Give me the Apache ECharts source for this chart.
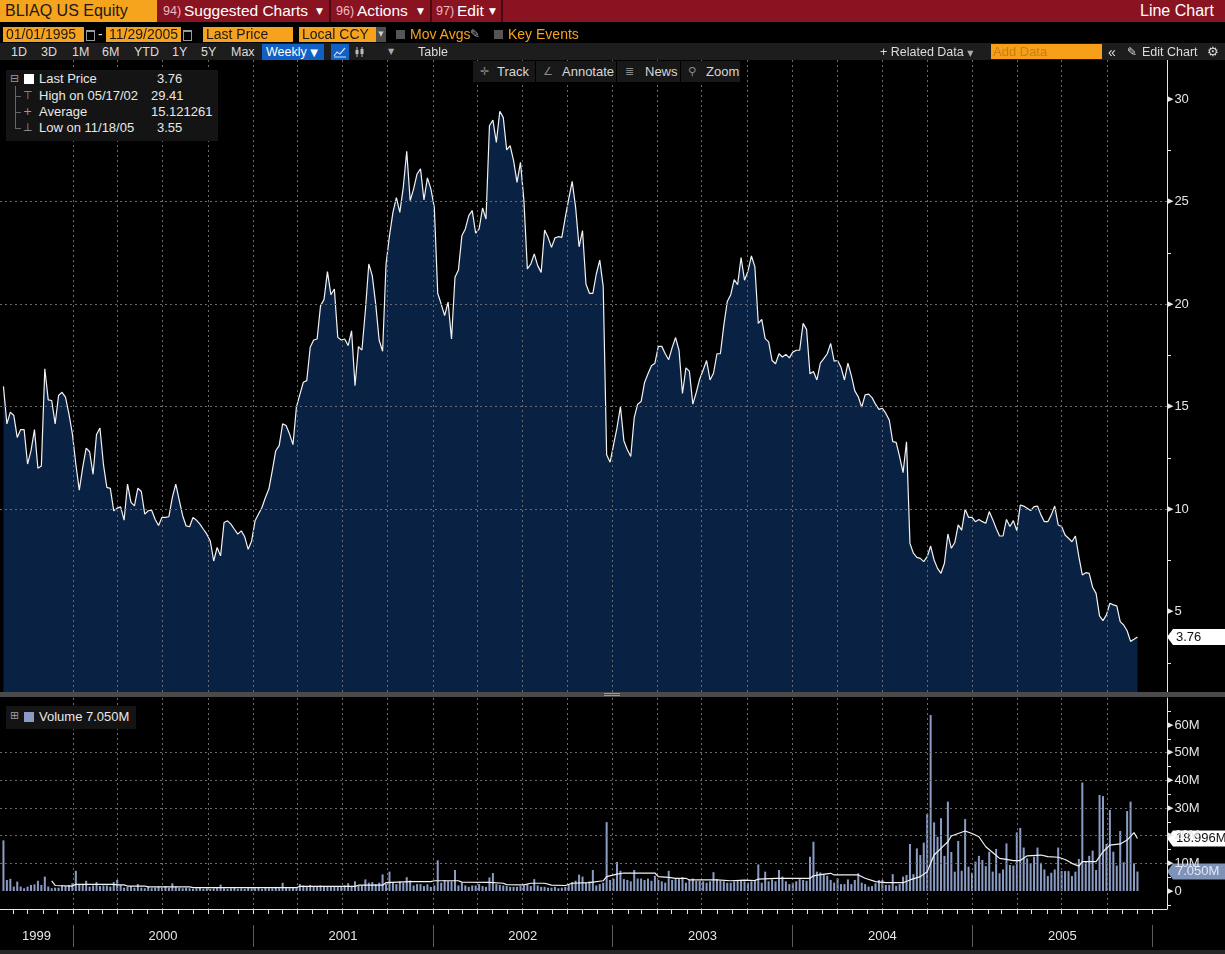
<!DOCTYPE html>
<html lang="en">
<head>
<meta charset="UTF-8">
<title>BLIAQ US Equity - Line Chart</title>
<script src="https://cdn.jsdelivr.net/npm/echarts@6/dist/echarts.min.js"></script>
<style>
html, body { margin: 0; padding: 0; background: #000; }
body { position: relative; width: 1225px; height: 954px; overflow: hidden;
       font-family: "Liberation Sans", Arial, sans-serif; color: #e6e6e6; }
#chart { position: absolute; left: 0; top: 0; width: 1225px; height: 954px; }
.a { position: absolute; white-space: nowrap; }
.ico { font-family: "DejaVu Sans", sans-serif; }
.t1 { top: 0; line-height: 22px; font-size: 15.5px; color: #fff; }
.num { top: 0; line-height: 22px; font-size: 12.5px; color: #f0b9bf; }
.box { top: 27px; height: 15px; line-height: 15px; background: #f7a21c; color: #1c1c1c; font-size: 14px; padding-left: 3px; box-sizing: border-box; }
.o2 { top: 27px; line-height: 15px; font-size: 14px; color: #f7a21c; }
.t3 { top: 44px; line-height: 16px; font-size: 12.5px; color: #dcdcdc; }
.lg { font-size: 13px; line-height: 16px; color: #e8e8e8; }
.tk { top: 62px; line-height: 19px; font-size: 13px; color: #d6d6d6; }
</style>
</head>
<body>
<div id="chart"></div>

<!-- row 1 -->
<div class="a" style="left:0;top:0;width:1225px;height:22px;background:#8a1322"></div>
<div class="a" style="left:0;top:0;width:157px;height:22px;background:#f6a31d;color:#1a1a1a;font-size:16px;line-height:22px;padding-left:5px;box-sizing:border-box">BLIAQ US Equity</div>
<div class="a" style="left:329px;top:0;width:2px;height:22px;background:#4a0a12"></div>
<div class="a" style="left:430px;top:0;width:2px;height:22px;background:#4a0a12"></div>
<div class="a" style="left:501px;top:0;width:2px;height:22px;background:#4a0a12"></div>
<div class="a num" style="left:163px">94)</div>
<div class="a t1" style="left:184px">Suggested Charts</div>
<div class="a t1 ico" style="left:316px;font-size:9px">▼</div>
<div class="a num" style="left:336px">96)</div>
<div class="a t1" style="left:357px">Actions</div>
<div class="a t1 ico" style="left:417px;font-size:9px">▼</div>
<div class="a num" style="left:436px">97)</div>
<div class="a t1" style="left:457px">Edit</div>
<div class="a t1 ico" style="left:489px;font-size:9px">▼</div>
<div class="a t1" style="left:1140px;font-size:16px">Line Chart</div>

<!-- row 2 -->
<div class="a box" style="left:3px;width:81px">01/01/1995</div>
<div class="a" style="left:86px;top:30px;width:7px;height:8px;border:1px solid #9a9a9a;border-top-width:2px"></div>
<div class="a o2" style="left:98px;color:#ddd">-</div>
<div class="a box" style="left:106px;width:75px">11/29/2005</div>
<div class="a" style="left:183px;top:30px;width:7px;height:8px;border:1px solid #9a9a9a;border-top-width:2px"></div>
<div class="a box" style="left:203px;width:90px">Last Price</div>
<div class="a box" style="left:299px;width:77px">Local CCY</div>
<div class="a ico" style="left:376px;top:27px;width:10px;height:15px;background:#4d4d4d;color:#ccc;font-size:7px;line-height:15px;text-align:center">▼</div>
<div class="a" style="left:396px;top:30px;width:9px;height:9px;background:#555"></div>
<div class="a o2" style="left:410px">Mov Avgs</div>
<div class="a ico o2" style="left:470px;color:#aaa;font-size:12px">✎</div>
<div class="a" style="left:494px;top:30px;width:9px;height:9px;background:#555"></div>
<div class="a o2" style="left:508px">Key Events</div>

<!-- row 3 -->
<div class="a" style="left:0;top:43px;width:1225px;height:17px;background:#1d1d1d"></div>
<div class="a t3" style="left:11px">1D</div>
<div class="a t3" style="left:41px">3D</div>
<div class="a t3" style="left:72px">1M</div>
<div class="a t3" style="left:102px">6M</div>
<div class="a t3" style="left:134px">YTD</div>
<div class="a t3" style="left:172px">1Y</div>
<div class="a t3" style="left:201px">5Y</div>
<div class="a t3" style="left:231px">Max</div>
<div class="a t3" style="left:262px;width:62px;height:16px;background:#1160c4;color:#fff;padding-left:4px;box-sizing:border-box">Weekly <span class="ico" style="font-size:10px">▼</span></div>
<div class="a" style="left:331px;top:44px;width:18px;height:16px;background:#1160c4"></div>
<svg class="a" style="left:333px;top:46px" width="14" height="12"><polyline points="1,10 4,6 7,8 12,2" fill="none" stroke="#cfe0ff" stroke-width="1.2"/><line x1="1" y1="11" x2="13" y2="11" stroke="#cfe0ff" stroke-width="1"/></svg>
<svg class="a" style="left:354px;top:46px" width="12" height="12"><line x1="3" y1="1" x2="3" y2="11" stroke="#bbb"/><line x1="8" y1="1" x2="8" y2="11" stroke="#bbb"/><rect x="1.5" y="4" width="3" height="4" fill="#bbb"/><rect x="6.5" y="3" width="3" height="5" fill="#bbb"/></svg>
<div class="a t3 ico" style="left:388px;font-size:8px;color:#aaa">▼</div>
<div class="a t3" style="left:418px">Table</div>
<div class="a t3" style="left:880px">+ Related Data <span class="ico" style="font-size:8px;color:#aaa">▼</span></div>
<div class="a t3" style="left:991px;width:111px;height:15px;background:#f6a01a;color:#c97d12;padding-left:2px;box-sizing:border-box;font-size:13px">Add Data</div>
<div class="a t3" style="left:1108px;font-size:14px">«</div>
<div class="a t3 ico" style="left:1127px;font-size:12px">✎</div>
<div class="a t3" style="left:1142px">Edit Chart</div>
<div class="a t3 ico" style="left:1207px;font-size:13px">⚙</div>

<!-- track bar -->
<div class="a" style="left:473px;top:61px;width:267px;height:21px;background:#181818"></div>
<div class="a" style="left:535px;top:61px;width:1px;height:21px;background:#000"></div>
<div class="a" style="left:616px;top:61px;width:1px;height:21px;background:#000"></div>
<div class="a" style="left:680px;top:61px;width:1px;height:21px;background:#000"></div>
<div class="a tk ico" style="left:480px;color:#8a8a8a;font-size:11px">✛</div>
<div class="a tk" style="left:497px">Track</div>
<div class="a tk ico" style="left:543px;color:#8a8a8a;font-size:11px">∠</div>
<div class="a tk" style="left:562px">Annotate</div>
<div class="a tk ico" style="left:625px;color:#8a8a8a;font-size:11px">≣</div>
<div class="a tk" style="left:645px">News</div>
<div class="a tk ico" style="left:688px;color:#8a8a8a;font-size:11px">⚲</div>
<div class="a tk" style="left:706px">Zoom</div>

<!-- price legend -->
<div class="a" style="left:6px;top:70px;width:212px;height:71px;background:#141414"></div>
<div class="a ico" style="left:10px;top:72px;font-size:11px;color:#9a9a9a">⊟</div>
<div class="a" style="left:15px;top:86px;width:1px;height:42px;background:#666"></div>
<div class="a" style="left:15px;top:96px;width:6px;height:1px;background:#666"></div>
<div class="a" style="left:15px;top:112px;width:6px;height:1px;background:#666"></div>
<div class="a" style="left:15px;top:128px;width:6px;height:1px;background:#666"></div>
<div class="a" style="left:24px;top:74px;width:10px;height:10px;background:#fff"></div>
<div class="a lg" style="left:39px;top:71px">Last Price</div>
<div class="a lg" style="left:157px;top:71px">3.76</div>
<div class="a lg ico" style="left:23px;top:88px;color:#9a9a9a;font-size:11px">⊤</div>
<div class="a lg" style="left:39px;top:88px">High on 05/17/02</div>
<div class="a lg" style="left:151px;top:88px">29.41</div>
<div class="a lg ico" style="left:23px;top:104px;color:#9a9a9a;font-size:11px">+</div>
<div class="a lg" style="left:39px;top:104px">Average</div>
<div class="a lg" style="left:151px;top:104px">15.121261</div>
<div class="a lg ico" style="left:23px;top:120px;color:#9a9a9a;font-size:11px">⊥</div>
<div class="a lg" style="left:39px;top:120px">Low on 11/18/05</div>
<div class="a lg" style="left:157px;top:120px">3.55</div>

<!-- volume legend -->
<div class="a" style="left:6px;top:706px;width:130px;height:23px;background:#141414"></div>
<div class="a ico" style="left:10px;top:709px;font-size:11px;color:#9a9a9a">⊞</div>
<div class="a" style="left:24px;top:712px;width:10px;height:10px;background:#8a9cc3"></div>
<div class="a lg" style="left:39px;top:709px">Volume 7.050M</div>

<script>
// weekly closes, one array per calendar year (first point: Friday 1999-08-13)
const price1999 = [15.99, 14.16, 14.73, 14.57, 13.50, 13.88, 13.88, 12.20, 12.85, 13.88, 12.00, 12.10, 16.85, 15.33, 15.30, 14.16, 15.55, 15.70, 15.46, 14.65, 13.67];
const price2000 = [12.20, 10.93, 12.04, 12.98, 12.80, 11.70, 13.64, 13.96, 12.20, 11.06, 11.01, 9.92, 10.05, 10.11, 9.46, 11.22, 10.33, 10.16, 11.02, 10.86, 9.76, 9.92, 9.95, 9.51, 9.20, 9.60, 9.60, 9.63, 10.57, 11.22, 10.44, 9.68, 9.18, 9.14, 9.60, 9.46, 9.27, 9.02, 8.78, 8.45, 7.47, 8.13, 7.72, 9.35, 9.43, 9.27, 9.02, 8.78, 8.94, 8.65, 8.04, 8.45];
const price2001 = [9.43, 9.76, 10.08, 10.57, 10.98, 11.88, 12.85, 13.10, 14.16, 14.08, 13.67, 13.15, 14.98, 15.60, 16.19, 16.27, 17.90, 18.25, 18.30, 19.93, 20.22, 21.59, 20.46, 20.74, 18.38, 18.25, 18.30, 17.98, 18.70, 16.02, 17.93, 17.76, 19.68, 21.96, 21.39, 20.00, 18.25, 17.70, 21.96, 23.34, 24.48, 25.20, 24.48, 25.70, 27.46, 25.05, 25.62, 26.35, 26.60, 25.08, 26.16, 25.62];
const price2002 = [24.72, 20.53, 20.00, 19.44, 20.10, 18.30, 21.31, 21.67, 23.34, 23.67, 24.32, 24.56, 23.46, 23.67, 24.69, 24.15, 28.70, 28.98, 27.89, 29.41, 29.11, 27.52, 27.73, 27.00, 25.94, 26.92, 25.05, 21.72, 21.96, 22.45, 21.88, 21.55, 23.62, 23.26, 22.77, 23.23, 23.29, 23.26, 24.24, 25.13, 25.99, 24.72, 22.80, 23.59, 20.98, 20.53, 20.53, 21.47, 22.15, 20.87, 12.65, 12.29];
const price2003 = [13.14, 13.96, 15.00, 13.34, 12.90, 12.57, 14.46, 15.12, 15.25, 16.18, 16.60, 17.00, 17.12, 17.94, 17.94, 17.58, 17.29, 17.88, 18.37, 17.75, 15.64, 16.89, 16.73, 15.12, 15.69, 16.35, 16.79, 17.25, 16.30, 16.63, 17.58, 17.58, 18.98, 20.13, 20.46, 21.20, 20.95, 22.27, 21.17, 21.61, 22.35, 21.83, 19.06, 19.26, 18.32, 18.16, 17.25, 17.09, 17.58, 17.42, 17.55, 17.38];
const price2004 = [17.66, 17.75, 17.75, 19.06, 18.77, 16.60, 16.71, 16.30, 17.12, 17.34, 17.58, 18.08, 17.22, 17.25, 16.92, 16.30, 17.12, 16.51, 15.77, 15.48, 14.98, 15.58, 15.61, 15.44, 15.12, 14.87, 14.92, 14.67, 14.35, 13.29, 13.26, 12.56, 11.78, 13.29, 8.33, 7.85, 7.65, 7.60, 7.44, 7.68, 8.20, 7.52, 7.11, 6.87, 7.36, 8.79, 8.09, 8.37, 9.23, 8.98, 9.99, 9.60, 9.60];
const price2005 = [9.39, 9.50, 9.39, 9.31, 9.88, 9.50, 9.07, 8.69, 8.69, 9.50, 9.15, 9.44, 8.95, 10.20, 10.15, 10.04, 9.93, 10.12, 10.15, 9.72, 9.39, 9.39, 9.72, 10.15, 9.23, 9.15, 8.74, 8.58, 8.41, 8.69, 7.68, 6.79, 6.90, 6.87, 6.19, 5.89, 4.79, 4.56, 4.84, 5.41, 5.33, 5.28, 4.51, 4.35, 4.07, 3.55, 3.65, 3.76];

// weekly volume, millions of shares
const vol1999 = [18.3, 4.0, 4.4, 1.6, 3.4, 1.6, 1.0, 1.6, 2.2, 2.4, 3.7, 2.2, 5.2, 1.6, 1.0, 1.2, 1.2, 2.0, 1.8, 2.2, 2.8];
const vol2000 = [7.3, 2.4, 2.2, 3.7, 1.6, 2.0, 3.2, 1.8, 2.0, 2.0, 1.6, 3.2, 4.0, 2.2, 1.2, 1.5, 1.8, 1.2, 2.5, 1.2, 1.0, 1.5, 1.0, 1.2, 1.5, 1.2, 1.8, 1.2, 2.8, 1.5, 1.2, 1.0, 1.2, 1.0, 0.8, 1.0, 1.2, 0.8, 1.0, 0.8, 1.0, 1.2, 2.3, 1.0, 0.8, 1.0, 1.2, 0.8, 1.0, 0.8, 1.2, 1.0];
const vol2001 = [1.0, 1.2, 0.8, 1.2, 1.0, 1.0, 1.5, 1.0, 3.0, 1.2, 1.0, 1.2, 1.0, 2.5, 2.0, 1.8, 2.2, 1.5, 1.8, 2.0, 1.5, 1.8, 1.5, 1.8, 1.5, 1.8, 2.0, 2.8, 1.8, 3.5, 2.0, 2.0, 4.2, 3.0, 3.2, 2.5, 3.0, 6.0, 2.5, 7.0, 3.0, 2.5, 3.5, 3.0, 5.0, 3.8, 2.0, 2.5, 2.5, 1.8, 2.4, 1.5];
const vol2002 = [2.0, 11.1, 3.0, 4.0, 3.6, 3.5, 7.6, 2.0, 3.0, 2.0, 1.5, 2.0, 2.0, 2.5, 1.8, 1.5, 4.9, 6.5, 2.5, 2.2, 2.0, 1.8, 1.5, 1.5, 1.5, 1.8, 2.0, 2.4, 1.8, 4.3, 2.0, 1.5, 1.5, 1.2, 1.2, 1.5, 1.0, 1.2, 1.5, 2.5, 3.2, 3.7, 5.9, 5.2, 3.0, 3.5, 7.6, 2.0, 2.5, 3.0, 24.9, 4.0];
const vol2003 = [4.5, 10.5, 7.3, 4.3, 4.0, 3.5, 7.6, 4.5, 4.5, 4.0, 4.5, 3.7, 5.5, 4.0, 3.5, 3.0, 7.3, 4.0, 4.3, 4.3, 5.0, 3.0, 4.0, 4.5, 3.7, 3.7, 3.5, 3.0, 3.5, 6.8, 4.3, 3.7, 3.5, 3.0, 3.0, 3.5, 3.7, 4.0, 3.5, 3.0, 3.5, 4.0, 9.6, 3.0, 7.0, 3.5, 4.2, 3.5, 7.6, 5.2, 3.5, 2.5];
const vol2004 = [3.0, 3.5, 4.3, 4.0, 3.7, 12.4, 17.8, 7.0, 6.7, 6.1, 5.5, 4.0, 3.0, 4.6, 2.5, 2.5, 4.2, 2.5, 4.0, 6.4, 3.0, 2.5, 1.6, 1.8, 2.8, 4.0, 4.0, 2.2, 2.2, 6.1, 1.9, 2.5, 5.2, 5.8, 17.0, 6.1, 15.4, 13.0, 17.5, 27.8, 63.6, 24.8, 19.6, 26.3, 12.7, 32.3, 14.1, 7.0, 18.1, 7.3, 26.0, 8.8, 6.6];
const vol2005 = [10.6, 12.7, 11.2, 9.0, 14.2, 7.0, 15.2, 6.4, 7.8, 17.2, 9.4, 9.2, 21.2, 22.8, 15.7, 11.8, 10.0, 12.4, 15.7, 10.2, 7.8, 5.4, 6.6, 7.8, 15.7, 7.2, 7.2, 7.2, 5.4, 7.0, 11.6, 39.2, 10.6, 12.7, 14.6, 7.6, 34.7, 34.3, 17.0, 29.3, 14.2, 9.2, 21.7, 10.4, 28.9, 32.3, 10.0, 7.05];

// volume average line: week number (0 = first week) and value
const volAvgWeek = [14, 15, 20, 21, 32, 33, 35, 36, 41, 42, 54, 55, 85, 86, 102, 103, 110, 111, 118, 124, 125, 132, 133, 141, 145, 146, 151, 153, 157, 159, 163, 165, 170, 174, 175, 178, 180, 189, 190, 193, 195, 198, 199, 207, 211, 215, 218, 219, 224, 234, 235, 237, 240, 241, 248, 250, 253, 256, 261, 263, 266, 268, 270, 272, 274, 275, 277, 279, 281, 283, 285, 287, 289, 291, 293, 295, 297, 301, 303, 306, 308, 310, 312, 313, 317, 319, 321, 324, 326, 328, 329];
const volAvgValue = [3.7, 2.0, 1.8, 2.4, 2.4, 2.2, 2.2, 1.8, 1.8, 1.5, 1.5, 1.2, 1.2, 1.7, 1.7, 2.1, 2.1, 3.0, 3.4, 3.4, 3.7, 3.7, 3.2, 3.1, 2.8, 2.3, 2.2, 2.8, 2.8, 2.1, 2.0, 2.8, 3.0, 3.7, 5.2, 6.1, 6.5, 6.5, 5.2, 4.9, 4.6, 4.6, 4.0, 4.0, 3.7, 3.9, 3.8, 4.3, 4.6, 4.6, 5.5, 5.9, 6.4, 5.8, 5.8, 4.6, 3.4, 3.0, 3.0, 4.0, 5.2, 7.0, 13.0, 15.4, 17.8, 19.9, 20.8, 21.7, 20.8, 19.6, 16.0, 13.9, 11.8, 11.4, 11.0, 11.0, 12.7, 13.0, 12.4, 12.2, 11.4, 10.0, 9.0, 10.6, 10.6, 14.2, 16.6, 17.0, 18.4, 21.1, 18.996];

const priceTicks = [5, 10, 15, 20, 25, 30];
const priceMinor = [2.5, 7.5, 12.5, 17.5, 22.5, 27.5];
const volTicks = [0, 10, 20, 30, 40, 50, 60];
const volMinor = [-5, 5, 15, 25, 35, 45, 55, 65];
const yearLabels = [1999, 2000, 2001, 2002, 2003, 2004, 2005];

const lastPrice = 3.76;
const lastVolume = 7.05;
const lastVolAvg = 18.996;

const axisMin = new Date(1999, 7, 6).getTime();
const axisMax = new Date(2006, 0, 31).getTime();

const prices = [].concat(price1999, price2000, price2001, price2002, price2003, price2004, price2005);
const volumes = [].concat(vol1999, vol2000, vol2001, vol2002, vol2003, vol2004, vol2005);
const weekDate = i => new Date(1999, 7, 13 + 7 * i).getTime();

const priceData = prices.map((v, i) => [weekDate(i), v]);
const volData = volumes.map((v, i) => [weekDate(i), v]);
const avgData = volAvgWeek.map((w, i) => [weekDate(w), volAvgValue[i]]);

// tick positions (timestamps) for the date axes
const monthTicks = [], quarterTicks = [], yearTicks = [];
for (let y = 1999; y <= 2006; y++) {
    for (let m = 0; m < 12; m++) {
        const t = new Date(y, m, 1).getTime();
        if (t <= axisMin || t >= axisMax) continue;
        monthTicks.push(t);
        if (m % 3 === 0) quarterTicks.push(t);
        if (m === 0) yearTicks.push(t);
    }
}
const yearLabelPos = yearLabels.map(y => {
    const a = Math.max(new Date(y, 0, 1).getTime(), axisMin);
    const b = Math.min(new Date(y + 1, 0, 1).getTime(), axisMax);
    return (a + b) / 2;
});

const font = '"Liberation Sans", Arial, sans-serif';
const gridLine = { show: true, showMinLine: false, showMaxLine: false, lineStyle: { color: '#6a6a6a', width: 1, type: [2, 3] } };
const flagRich = {
    t: { fontSize: 7, color: '#e6e6e6', fontFamily: '"DejaVu Sans", sans-serif', padding: [0, 1, 0, 0] },
    v: { fontSize: 13, color: '#e6e6e6', fontFamily: font }
};
const white = { color: '#e6e6e6', width: 1 };
const dateAxis = (grid, extra) => Object.assign({
    gridIndex: grid, type: 'value', min: axisMin, max: axisMax, position: 'bottom', z: 3,
    axisLine: { show: false, onZero: false }, axisLabel: { show: false }, splitLine: { show: false }
}, extra);

const chart = echarts.init(document.getElementById('chart'), null, { renderer: 'canvas' });

chart.setOption({
    backgroundColor: '#000',
    animation: false,
    grid: [
        { left: 0, top: 60, width: 1167, height: 632 },
        { left: 0, top: 698, width: 1167, height: 211 }
    ],
    xAxis: [
        dateAxis(0, { axisTick: { show: false, customValues: quarterTicks }, splitLine: gridLine }),
        dateAxis(1, { axisLine: { show: true, onZero: false, lineStyle: white },
                      axisTick: { show: false, customValues: quarterTicks }, splitLine: gridLine }),
        dateAxis(1, { axisTick: { show: true, customValues: monthTicks, length: 5, lineStyle: white } }),
        dateAxis(1, { offset: 16,
                      axisTick: { show: true, customValues: yearTicks, length: 22, lineStyle: { color: '#5a5a5a', width: 1 } },
                      axisLabel: { show: true, customValues: yearLabelPos, margin: 5, color: '#e6e6e6', fontSize: 13, fontFamily: font,
                                   formatter: v => String(new Date(v).getFullYear()) } })
    ],
    yAxis: [
        { gridIndex: 0, type: 'value', position: 'right', min: 1.08, max: 31.91, z: 3,
          axisLine: { show: true, onZero: false, lineStyle: white },
          axisTick: { show: false, customValues: priceTicks },
          axisLabel: { customValues: priceTicks, margin: 1, formatter: v => '{t|▶}{v|' + v + '}', rich: flagRich },
          splitLine: gridLine },
        { gridIndex: 0, type: 'value', position: 'right', min: 1.08, max: 31.91, z: 3,
          axisLine: { show: false, onZero: false },
          axisTick: { show: true, customValues: priceMinor, length: 4, lineStyle: white },
          axisLabel: { show: false }, splitLine: { show: false } },
        { gridIndex: 1, type: 'value', position: 'right', min: -6.5, max: 69.75, z: 3,
          axisLine: { show: true, onZero: false, lineStyle: white },
          axisTick: { show: false, customValues: volTicks },
          axisLabel: { customValues: volTicks, margin: 1, rich: flagRich,
                       formatter: v => '{t|▶}{v|' + (v === 0 ? '0' : v + 'M') + '}' },
          splitLine: gridLine },
        { gridIndex: 1, type: 'value', position: 'right', min: -6.5, max: 69.75, z: 3,
          axisLine: { show: false, onZero: false },
          axisTick: { show: true, customValues: volMinor, length: 4, lineStyle: white },
          axisLabel: { show: false }, splitLine: { show: false } }
    ],
    series: [
        { name: 'Last Price', type: 'line', xAxisIndex: 0, yAxisIndex: 0, data: priceData,
          symbol: 'none', z: 2, lineStyle: { color: '#f2f2f2', width: 1.2 },
          areaStyle: { color: '#092243', opacity: 1, origin: 'start' } },
        { name: 'Volume', type: 'bar', xAxisIndex: 1, yAxisIndex: 2, data: volData,
          barWidth: 2, z: 2, itemStyle: { color: '#8a9cc3' } },
        { name: 'Volume Avg', type: 'line', xAxisIndex: 1, yAxisIndex: 2, data: avgData,
          symbol: 'none', z: 4, lineStyle: { color: '#f2f2f2', width: 1.2 } }
    ]
});

// last-value flags on the right axes
function flag(yAxisIndex, value, text, fill, textColor) {
    const y = chart.convertToPixel({ yAxisIndex: yAxisIndex }, value);
    const x = 1167, h = 16, w = 58;
    return {
        type: 'group', z: 50, children: [
            { type: 'polygon', shape: { points: [[x, y], [x + 6, y - h / 2], [x + w, y - h / 2], [x + w, y + h / 2], [x + 6, y + h / 2]] },
              style: { fill: fill } },
            { type: 'text', x: x + 9, y: y, style: { text: text, fill: textColor, font: '13px ' + font, verticalAlign: 'middle' } }
        ]
    };
}

chart.setOption({
    graphic: [
        { type: 'rect', z: 40, shape: { x: 0, y: 692, width: 1225, height: 5 }, style: { fill: '#4a4a4a' } },
        { type: 'rect', z: 41, shape: { x: 604, y: 693, width: 16, height: 1 }, style: { fill: '#9a9a9a' } },
        { type: 'rect', z: 41, shape: { x: 604, y: 695, width: 16, height: 1 }, style: { fill: '#9a9a9a' } },
        { type: 'rect', z: 40, shape: { x: 0, y: 950, width: 1225, height: 4 }, style: { fill: '#262626' } },
        flag(0, lastPrice, lastPrice.toFixed(2), '#ffffff', '#111111'),
        flag(2, lastVolAvg, lastVolAvg.toFixed(3) + 'M', '#ffffff', '#111111'),
        flag(2, lastVolume, lastVolume.toFixed(3) + 'M', '#7f92b8', '#e2e8f5')
    ]
});
</script>
</body>
</html>
